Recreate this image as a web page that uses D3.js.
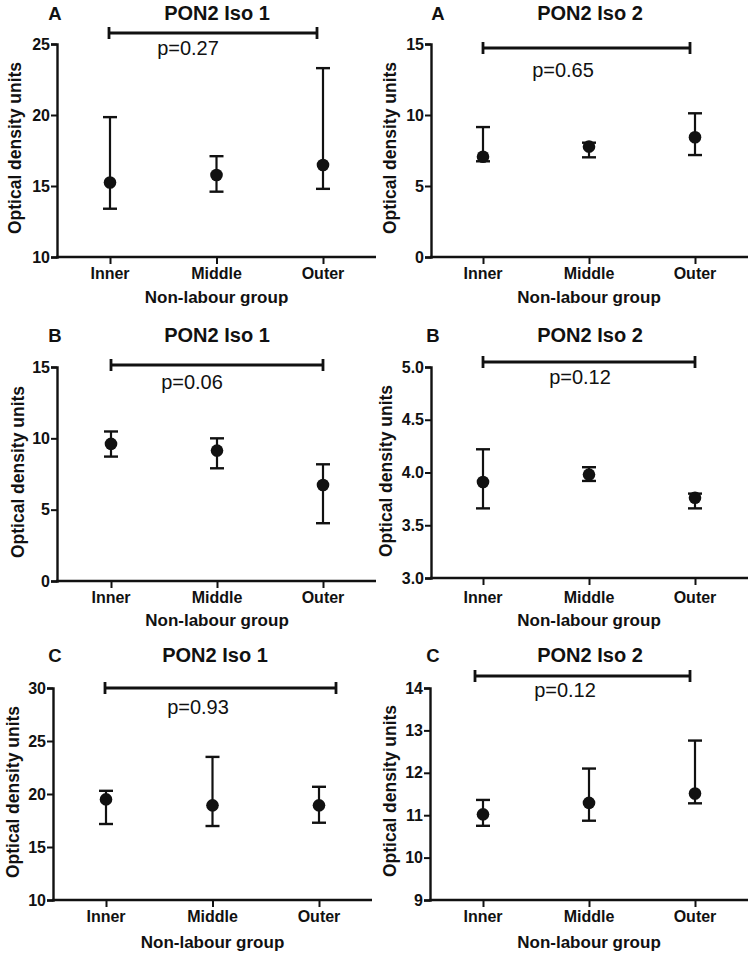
<!DOCTYPE html>
<html><head><meta charset="utf-8">
<script src="https://cdn.jsdelivr.net/npm/d3@7"></script>
<style>
html,body{margin:0;padding:0;background:#fff;}
svg{display:block;font-family:"Liberation Sans",Arial,sans-serif;}
</style></head>
<body>
<svg id="chart" width="755" height="955"></svg>
<script>
// ---- Data ----
const categories = ["Inner", "Middle", "Outer"];
const panelLetters = ["A", "A", "B", "B", "C", "C"];
const panelTitles = ["PON2 Iso 1", "PON2 Iso 2", "PON2 Iso 1", "PON2 Iso 2", "PON2 Iso 1", "PON2 Iso 2"];
const pValues = ["p=0.27", "p=0.65", "p=0.06", "p=0.12", "p=0.93", "p=0.12"];
const yLabel = "Optical density units";
const xLabel = "Non-labour group";

const a1Mean = [15.25, 15.77, 16.48];
const a1Upper = [19.85, 17.1, 23.3];
const a1Lower = [13.4, 14.6, 14.8];
const a1Ticks = [10, 15, 20, 25];

const a2Mean = [7.06, 7.77, 8.43];
const a2Upper = [9.15, 8.05, 10.12];
const a2Lower = [6.74, 7.02, 7.18];
const a2Ticks = [0, 5, 10, 15];

const b1Mean = [9.61, 9.14, 6.73];
const b1Upper = [10.48, 10.0, 8.18];
const b1Lower = [8.72, 7.9, 4.05];
const b1Ticks = [0, 5, 10, 15];

const b2Mean = [3.91, 3.98, 3.76];
const b2Upper = [4.22, 4.05, 3.80];
const b2Lower = [3.66, 3.92, 3.66];
const b2Ticks = [3.0, 3.5, 4.0, 4.5, 5.0];

const c1Mean = [19.49, 18.93, 18.93];
const c1Upper = [20.3, 23.5, 20.68];
const c1Lower = [17.17, 16.98, 17.29];
const c1Ticks = [10, 15, 20, 25, 30];

const c2Mean = [11.02, 11.29, 11.51];
const c2Upper = [11.36, 12.1, 12.76];
const c2Lower = [10.75, 10.87, 11.28];
const c2Ticks = [9, 10, 11, 12, 13, 14];

const seriesMeans = [a1Mean, a2Mean, b1Mean, b2Mean, c1Mean, c2Mean];
const seriesUpper = [a1Upper, a2Upper, b1Upper, b2Upper, c1Upper, c2Upper];
const seriesLower = [a1Lower, a2Lower, b1Lower, b2Lower, c1Lower, c2Lower];
const seriesTicks = [a1Ticks, a2Ticks, b1Ticks, b2Ticks, c1Ticks, c2Ticks];
const tickDecimals = [0, 0, 0, 1, 0, 0];

// ---- Layout (pixel geometry) ----
const layout = [
  {ax:57, yT:44, yB:257, xE:376, c0:110, c1:323, sigY:33, s0:109, s1:317, pX:188, pY:55, tX:217, tY:20, lX:55, ytX:15, ytY:148, tickY:279, xtY:303},
  {ax:431, yT:44, yB:257, xE:748, c0:483, c1:695, sigY:48, s0:483, s1:690, pX:563, pY:77, tX:590, tY:20, lX:438, ytX:390, ytY:148, tickY:279, xtY:303},
  {ax:57, yT:367, yB:581, xE:376, c0:111, c1:323, sigY:365, s0:111, s1:323, pX:192, pY:389, tX:217, tY:342, lX:55, ytX:18, ytY:472, tickY:603, xtY:626},
  {ax:431, yT:367, yB:578, xE:748, c0:483, c1:695, sigY:362, s0:483, s1:695, pX:580, pY:384, tX:590, tY:342, lX:433, ytX:386, ytY:471, tickY:603, xtY:626},
  {ax:53, yT:688, yB:900, xE:372, c0:106, c1:319, sigY:688, s0:105, s1:336, pX:198, pY:714, tX:215, tY:662, lX:55, ytX:13, ytY:792, tickY:922, xtY:948},
  {ax:430, yT:688, yB:900, xE:748, c0:483, c1:695, sigY:676, s0:475, s1:690, pX:565, pY:697, tX:590, tY:662, lX:433, ytX:390, ytY:791, tickY:922, xtY:948}
];

const ink = "#111";
const svg = d3.select("#chart");

layout.forEach((L, i) => {
  const ticks = seriesTicks[i];
  const y = d3.scaleLinear().domain([ticks[0], ticks[ticks.length - 1]]).range([L.yB, L.yT]);
  const x = d3.scalePoint().domain(categories).range([L.c0, L.c1]);
  const g = svg.append("g");

  // y axis
  const yAxis = d3.axisLeft(y).tickValues(ticks).tickSize(6).tickPadding(1)
    .tickFormat(d3.format("." + tickDecimals[i] + "f"));
  const ya = g.append("g").attr("transform", `translate(${L.ax},0)`).call(yAxis);
  ya.select(".domain").attr("stroke", ink).attr("stroke-width", 2.4);
  ya.selectAll(".tick line").attr("stroke", ink).attr("stroke-width", 2);
  ya.selectAll(".tick text").attr("fill", ink).attr("font-size", 16).attr("font-weight", "bold")
    .attr("font-family", "Liberation Sans, Arial, sans-serif");

  // x axis
  g.append("line").attr("x1", L.ax - 1).attr("x2", L.xE).attr("y1", L.yB).attr("y2", L.yB)
    .attr("stroke", ink).attr("stroke-width", 2.4);
  const xa = g.append("g").attr("transform", `translate(0,${L.yB})`)
    .call(d3.axisBottom(x).tickSize(7).tickPadding(0));
  xa.select(".domain").remove();
  xa.selectAll(".tick line").attr("stroke", ink).attr("stroke-width", 2);
  xa.selectAll(".tick text").remove();
  g.selectAll(".xlab").data(categories).enter().append("text")
    .attr("x", d => x(d)).attr("y", L.tickY).attr("text-anchor", "middle")
    .attr("font-size", 16).attr("font-weight", "bold").attr("fill", ink).text(d => d);

  // axis titles
  g.append("text").attr("x", (L.c0 + L.c1) / 2).attr("y", L.xtY).attr("text-anchor", "middle")
    .attr("font-size", 17).attr("font-weight", "bold").attr("fill", ink).text(xLabel);
  g.append("text").attr("transform", `translate(${L.ytX + 6},${L.ytY}) rotate(-90)`)
    .attr("text-anchor", "middle").attr("font-size", 17.5).attr("font-weight", "bold")
    .attr("fill", ink).text(yLabel);

  // title and letter
  g.append("text").attr("x", L.tX).attr("y", L.tY).attr("text-anchor", "middle")
    .attr("font-size", 20).attr("font-weight", "bold").attr("fill", ink).text(panelTitles[i]);
  g.append("text").attr("x", L.lX).attr("y", L.tY).attr("text-anchor", "middle")
    .attr("font-size", 18.5).attr("font-weight", "bold").attr("fill", ink).text(panelLetters[i]);

  // significance bar
  g.append("line").attr("x1", L.s0).attr("x2", L.s1).attr("y1", L.sigY).attr("y2", L.sigY)
    .attr("stroke", ink).attr("stroke-width", 2.8);
  [L.s0, L.s1].forEach(sx => g.append("line").attr("x1", sx).attr("x2", sx)
    .attr("y1", L.sigY - 6).attr("y2", L.sigY + 6).attr("stroke", ink).attr("stroke-width", 2.8));
  g.append("text").attr("x", L.pX).attr("y", L.pY).attr("text-anchor", "middle")
    .attr("font-size", 20).attr("fill", ink).text(pValues[i]);

  // error bars and points
  const rows = categories.map((c, k) => ({c, m: seriesMeans[i][k], hi: seriesUpper[i][k], lo: seriesLower[i][k]}));
  const eb = g.selectAll(".eb").data(rows).enter().append("g");
  eb.append("line").attr("x1", d => x(d.c)).attr("x2", d => x(d.c))
    .attr("y1", d => y(d.hi)).attr("y2", d => y(d.lo)).attr("stroke", ink).attr("stroke-width", 2.2);
  eb.append("line").attr("x1", d => x(d.c) - 7).attr("x2", d => x(d.c) + 7)
    .attr("y1", d => y(d.hi)).attr("y2", d => y(d.hi)).attr("stroke", ink).attr("stroke-width", 2.4);
  eb.append("line").attr("x1", d => x(d.c) - 7).attr("x2", d => x(d.c) + 7)
    .attr("y1", d => y(d.lo)).attr("y2", d => y(d.lo)).attr("stroke", ink).attr("stroke-width", 2.4);
  eb.append("circle").attr("cx", d => x(d.c)).attr("cy", d => y(d.m)).attr("r", 6.3).attr("fill", ink);
});
</script>
</body></html>
